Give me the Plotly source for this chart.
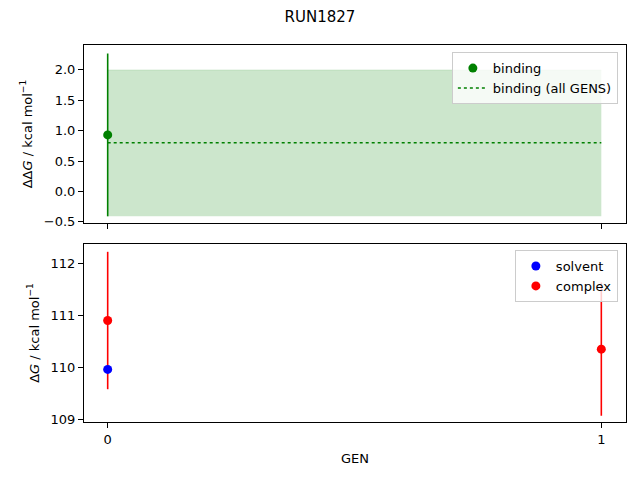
import plotly.graph_objects as go
from plotly.subplots import make_subplots

# values
gens = [0, 1]
binding_gen = [0]
binding_val = [0.93]
binding_err = [1.34]
binding_all = 0.80
binding_all_lo = -0.41
binding_all_hi = 2.0

solvent_gen = [0]
solvent_val = [109.97]
complex_gen = [0, 1]
complex_val = [110.91, 110.36]
complex_err = [1.32, 1.28]

GREEN = "green"
FONT = "DejaVu Sans"

fig = make_subplots(rows=2, cols=1, shared_xaxes=True, vertical_spacing=0.0557)

# shaded band for the all-GENS estimate
fig.add_trace(go.Scatter(
    x=gens, y=[binding_all_lo] * len(gens), mode="lines",
    line=dict(width=0), showlegend=False, hoverinfo="skip"), row=1, col=1)
fig.add_trace(go.Scatter(
    x=gens, y=[binding_all_hi] * len(gens), mode="lines",
    line=dict(width=1, color="rgba(0,128,0,0.12)"), fill="tonexty",
    fillcolor="rgba(0,128,0,0.2)", showlegend=False, hoverinfo="skip"), row=1, col=1)

fig.add_trace(go.Scatter(
    x=binding_gen, y=binding_val, mode="markers", name="binding",
    marker=dict(color=GREEN, size=9),
    error_y=dict(type="data", array=binding_err, color=GREEN, thickness=1.6, width=0),
    legend="legend"), row=1, col=1)
fig.add_trace(go.Scatter(
    x=gens, y=[binding_all] * len(gens), mode="lines", name="binding (all GENS)",
    line=dict(color=GREEN, dash="dot", width=1.6), legend="legend"), row=1, col=1)

fig.add_trace(go.Scatter(
    x=complex_gen, y=complex_val, mode="markers", name="complex",
    marker=dict(color="red", size=9), showlegend=False,
    error_y=dict(type="data", array=complex_err, color="red", thickness=1.6, width=0)),
    row=2, col=1)
fig.add_trace(go.Scatter(
    x=solvent_gen, y=solvent_val, mode="markers", name="solvent",
    marker=dict(color="blue", size=9), legend="legend2"), row=2, col=1)
# legend entry for complex in its original order
fig.add_trace(go.Scatter(
    x=[None], y=[None], mode="markers", name="complex",
    marker=dict(color="red", size=9), legend="legend2"), row=2, col=1)

axis_style = dict(showline=True, linecolor="black", linewidth=1, mirror=True,
                  ticks="outside", ticklen=5, tickcolor="black", showgrid=False,
                  zeroline=False, tickfont=dict(size=13, color="black"), automargin=False)

fig.update_xaxes(**axis_style, range=[-0.048, 1.05], tickvals=[0, 1])
fig.update_xaxes(showticklabels=False, row=1, col=1)
fig.update_xaxes(title=dict(text="GEN", font=dict(size=13), standoff=8), row=2, col=1)

fig.update_yaxes(**axis_style)
fig.update_yaxes(range=[-0.52, 2.41], tickvals=[-0.5, 0, 0.5, 1, 1.5, 2],
                 tickformat=".1f",
                 title=dict(text="ΔΔ<i>G</i> / kcal mol<sup>−1</sup>", font=dict(size=13),
                            standoff=8),
                 row=1, col=1)
fig.update_yaxes(range=[108.96, 112.38], tickvals=[109, 110, 111, 112],
                 title=dict(text="Δ<i>G</i> / kcal mol<sup>−1</sup>", font=dict(size=13),
                            standoff=8),
                 row=2, col=1)

legend_style = dict(xanchor="right", yanchor="top", bgcolor="rgba(255,255,255,0.8)",
                    bordercolor="#cccccc", borderwidth=1, font=dict(size=13),
                    tracegroupgap=0, itemwidth=30, traceorder="normal")

# page body has an 8px margin, so the plot is shifted up/left by that much
fig.update_layout(
    width=640, height=480,
    paper_bgcolor="white", plot_bgcolor="white",
    font=dict(family=FONT, color="black"),
    margin=dict(l=76, r=22, t=37, b=66),
    title=dict(text="RUN1827", x=(320 - 8) / 640, xanchor="center",
               y=1 - (17 - 8) / 480, yanchor="middle", font=dict(size=15)),
    legend=dict(x=0.985, y=0.981, **legend_style),
    legend2=dict(x=0.985, y=0.456, **legend_style),
)

fig.write_html("out.html")
